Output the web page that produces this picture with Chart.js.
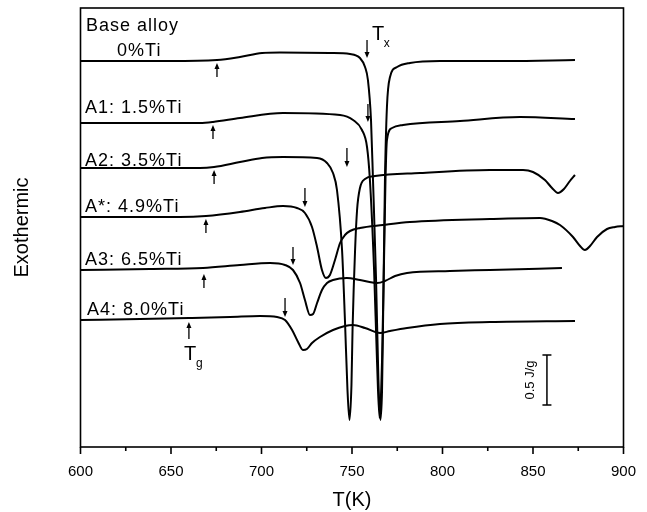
<!DOCTYPE html>
<html>
<head>
<meta charset="utf-8">
<script src="https://cdn.jsdelivr.net/npm/chart.js@4.4.1/dist/chart.umd.min.js"></script>
<style>
  html, body { margin: 0; padding: 0; background: #fff; }
  #wrap { width: 647px; height: 512px; }
</style>
</head>
<body>
<div id="wrap"><canvas id="dscChart" width="647" height="512"></canvas></div>
<script>
// DSC traces: temperature (K) vs stacked heat flow (1 unit = 1 J/g, curves offset)
const tBase = [600, 649.4, 675.4, 688.1, 700.3, 710.2, 737.8, 748.9, 754.4, 757.2, 758.8, 760.5, 761.6, 763.3, 764.6, 765.7, 766.6, 767.1, 768.2, 769.3, 771.0, 774.9, 782.0, 798.6, 835.6, 873.2];
const vBase = [3.86, 3.86, 3.87, 3.90, 3.94, 3.945, 3.94, 3.93, 3.89, 3.80, 3.67, 3.27, 2.67, 1.67, 0.67, 0.27, 0.57, 1.17, 2.67, 3.40, 3.70, 3.80, 3.84, 3.86, 3.86, 3.87];

const tA1 = [600, 666.0, 673.2, 688.1, 711.9, 743.4, 750.6, 755.5, 758.3, 759.9, 762.2, 763.8, 765.2, 766.6, 767.7, 768.5, 769.3, 772.1, 778.2, 809.7, 842.8, 873.2];
const vA1 = [3.24, 3.24, 3.25, 3.29, 3.34, 3.32, 3.27, 3.17, 3.00, 2.67, 1.77, 0.87, 0.29, 0.87, 1.87, 2.67, 3.07, 3.19, 3.22, 3.26, 3.30, 3.28];

const tA2 = [600, 666.0, 673.8, 688.1, 700.3, 711.9, 730.7, 736.2, 739.5, 741.7, 744.5, 746.1, 747.5, 748.6, 749.7, 750.3, 751.7, 752.8, 754.4, 757.2, 762.7, 787.6, 826.2, 844.5, 850.0, 856.6, 860.5, 863.8, 867.1, 870.4, 873.2];
const vA2 = [2.79, 2.79, 2.80, 2.85, 2.89, 2.90, 2.89, 2.84, 2.74, 2.57, 1.97, 1.27, 0.57, 0.27, 0.62, 1.17, 1.97, 2.37, 2.59, 2.68, 2.71, 2.74, 2.77, 2.77, 2.75, 2.67, 2.59, 2.54, 2.58, 2.66, 2.72];

const tAs = [600, 655.0, 669.3, 688.1, 701.9, 711.9, 719.6, 724.0, 727.9, 730.7, 733.4, 735.6, 737.8, 740.6, 743.4, 746.1, 748.9, 754.4, 767.1, 782.0, 826.2, 853.9, 860.5, 864.9, 872.1, 876.0, 878.7, 881.5, 885.4, 890.9, 895.3, 900];
const vAs = [2.30, 2.30, 2.31, 2.35, 2.39, 2.41, 2.39, 2.34, 2.20, 2.00, 1.77, 1.69, 1.72, 1.87, 2.04, 2.12, 2.16, 2.19, 2.22, 2.25, 2.28, 2.29, 2.26, 2.22, 2.10, 2.01, 1.97, 2.01, 2.10, 2.18, 2.20, 2.21];

const tA3 = [600, 638.4, 667.7, 688.1, 704.7, 713.0, 717.4, 721.3, 724.0, 726.8, 728.5, 730.7, 733.4, 736.2, 739.5, 747.2, 754.4, 763.8, 768.2, 773.8, 780.4, 804.1, 826.2, 866.0];
const vA3 = [1.77, 1.78, 1.79, 1.82, 1.84, 1.82, 1.77, 1.64, 1.47, 1.32, 1.33, 1.44, 1.57, 1.64, 1.67, 1.69, 1.67, 1.64, 1.66, 1.71, 1.74, 1.76, 1.77, 1.79];

const tA4 = [600, 632.9, 659.9, 682.6, 699.2, 708.6, 713.0, 716.9, 720.2, 722.9, 725.1, 727.9, 732.3, 739.5, 746.1, 750.6, 757.2, 765.5, 771.0, 780.4, 798.6, 826.2, 873.2];
const vA4 = [1.27, 1.28, 1.29, 1.30, 1.31, 1.30, 1.27, 1.17, 1.05, 0.97, 0.98, 1.04, 1.10, 1.17, 1.21, 1.22, 1.19, 1.14, 1.16, 1.19, 1.23, 1.25, 1.26];

const seriesNames = ['Base alloy 0%Ti', 'A1: 1.5%Ti', 'A2: 3.5%Ti', 'A*: 4.9%Ti', 'A3: 6.5%Ti', 'A4: 8.0%Ti'];
const seriesT = [tBase, tA1, tA2, tAs, tA3, tA4];
const seriesV = [vBase, vA1, vA2, vAs, vA3, vA4];

// curve labels: text, T at left edge, value at baseline
const labelText = ['Base alloy', '0%Ti', 'A1: 1.5%Ti', 'A2: 3.5%Ti', 'A*: 4.9%Ti', 'A3: 6.5%Ti', 'A4: 8.0%Ti'];
const labelT = [603.0, 620.2, 602.5, 602.5, 602.5, 602.5, 603.6];
const labelV = [4.16, 3.91, 3.34, 2.81, 2.35, 1.82, 1.32];

// Tg arrows (pointing up) and Tx arrows (pointing down): T, tail value, tip value
const tgT = [675.4, 673.2, 673.8, 669.3, 668.2, 659.9];
const tgTail = [3.70, 3.08, 2.63, 2.14, 1.59, 1.08];
const tgTip = [3.84, 3.22, 2.77, 2.28, 1.73, 1.25];
const txT = [758.3, 758.8, 747.2, 724.0, 717.4, 713.0];
const txTail = [4.07, 3.43, 2.99, 2.59, 2.00, 1.49];
const txTip = [3.89, 3.25, 2.80, 2.40, 1.82, 1.30];

// T_x and T_g symbols: [T, value] for main letter and subscript
const symTx = [761.0, 4.07, 767.6, 4.00];
const symTg = [657.2, 0.87, 663.8, 0.80];

// scale bar: 0.5 J/g
const barT = 857.7;
const barLow = 0.42;
const barHigh = 0.92;
const barLabelT = 848.3;

const FONT = "'Liberation Sans', Arial, Helvetica, sans-serif";

const decorPlugin = {
    id: 'decor',
    afterDraw(chart) {
        const { ctx, chartArea: a, scales: { x, y } } = chart;
        ctx.save();
        ctx.strokeStyle = '#000';
        ctx.fillStyle = '#000';

        // frame
        ctx.lineWidth = 1.6;
        ctx.strokeRect(a.left, a.top, a.right - a.left, a.bottom - a.top);

        // bottom ticks, major every 50 K, minor in between
        x.ticks.forEach(t => {
            const px = x.getPixelForValue(t.value);
            const len = t.value % 50 === 0 ? 7 : 4;
            ctx.beginPath();
            ctx.moveTo(px, a.bottom);
            ctx.lineTo(px, a.bottom + len);
            ctx.stroke();
        });

        // arrows
        const arrow = (T, v0, v1) => {
            const px = x.getPixelForValue(T);
            const y0 = y.getPixelForValue(v0);
            const y1 = y.getPixelForValue(v1);
            const dir = y1 < y0 ? -1 : 1;
            ctx.lineWidth = 1.3;
            ctx.beginPath();
            ctx.moveTo(px, y0);
            ctx.lineTo(px, y1 - dir * 4);
            ctx.stroke();
            ctx.beginPath();
            ctx.moveTo(px, y1);
            ctx.lineTo(px - 2.5, y1 - dir * 6);
            ctx.lineTo(px + 2.5, y1 - dir * 6);
            ctx.closePath();
            ctx.fill();
        };
        tgT.forEach((T, i) => arrow(T, tgTail[i], tgTip[i]));
        txT.forEach((T, i) => arrow(T, txTail[i], txTip[i]));

        // curve labels
        ctx.font = '18px ' + FONT;
        ctx.letterSpacing = '1px';
        ctx.textAlign = 'left';
        ctx.textBaseline = 'alphabetic';
        labelText.forEach((s, i) => {
            ctx.fillText(s, x.getPixelForValue(labelT[i]), y.getPixelForValue(labelV[i]));
        });
        ctx.letterSpacing = '0px';

        // T_x / T_g
        ctx.font = '20px ' + FONT;
        ctx.fillText('T', x.getPixelForValue(symTx[0]), y.getPixelForValue(symTx[1]));
        ctx.fillText('T', x.getPixelForValue(symTg[0]), y.getPixelForValue(symTg[1]));
        ctx.font = '12px ' + FONT;
        ctx.fillText('x', x.getPixelForValue(symTx[2]), y.getPixelForValue(symTx[3]));
        ctx.fillText('g', x.getPixelForValue(symTg[2]), y.getPixelForValue(symTg[3]));

        // scale bar
        const bx = x.getPixelForValue(barT);
        const bTop = y.getPixelForValue(barHigh);
        const bBot = y.getPixelForValue(barLow);
        ctx.lineWidth = 1.5;
        ctx.beginPath();
        ctx.moveTo(bx, bTop); ctx.lineTo(bx, bBot);
        ctx.moveTo(bx - 4.5, bTop); ctx.lineTo(bx + 4.5, bTop);
        ctx.moveTo(bx - 4.5, bBot); ctx.lineTo(bx + 4.5, bBot);
        ctx.stroke();
        ctx.save();
        ctx.translate(x.getPixelForValue(barLabelT), (bTop + bBot) / 2);
        ctx.rotate(-Math.PI / 2);
        ctx.font = '13px ' + FONT;
        ctx.textAlign = 'center';
        ctx.textBaseline = 'middle';
        ctx.fillText('0.5 J/g', 0, 0);
        ctx.restore();

        // y-axis title
        ctx.save();
        ctx.translate(22, (a.top + a.bottom) / 2);
        ctx.rotate(-Math.PI / 2);
        ctx.font = '20px ' + FONT;
        ctx.textAlign = 'center';
        ctx.textBaseline = 'middle';
        ctx.fillText('Exothermic', 0, 0);
        ctx.restore();

        ctx.restore();
    }
};

const datasets = seriesNames.map((name, i) => ({
    label: name,
    data: seriesT[i].map((T, j) => ({ x: T, y: seriesV[i][j] })),
    borderColor: '#000',
    borderWidth: 2,
    pointRadius: 0,
    fill: false,
    cubicInterpolationMode: 'monotone'
}));

new Chart(document.getElementById('dscChart'), {
    type: 'line',
    data: { datasets },
    options: {
        responsive: false,
        devicePixelRatio: 1,
        animation: false,
        layout: { padding: { left: 80.5, right: 23.5, top: 8, bottom: 0 } },
        plugins: { legend: { display: false }, tooltip: { enabled: false } },
        scales: {
            x: {
                type: 'linear',
                min: 600,
                max: 900,
                grid: { display: false },
                border: { display: false },
                ticks: {
                    stepSize: 25,
                    autoSkip: false,
                    maxRotation: 0,
                    padding: 8,
                    color: '#000',
                    font: { family: FONT, size: 15 },
                    callback: v => (v % 50 === 0 ? String(v) : '')
                },
                title: {
                    display: true,
                    text: 'T(K)',
                    color: '#000',
                    font: { family: FONT, size: 20 },
                    padding: { top: 0, bottom: 0 }
                },
                afterFit: s => { s.height = 65; }
            },
            y: {
                display: false,
                min: 0,
                max: 4.39
            }
        }
    },
    plugins: [decorPlugin]
});
</script>
</body>
</html>
